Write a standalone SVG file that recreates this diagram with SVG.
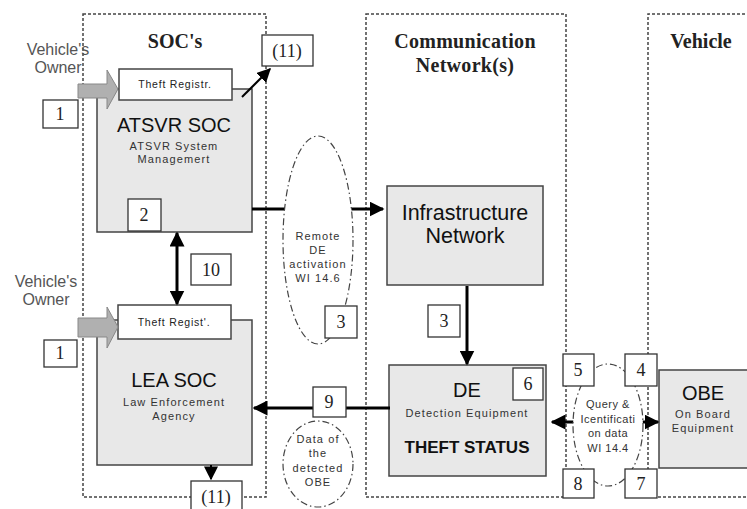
<svg xmlns="http://www.w3.org/2000/svg" width="747" height="509" viewBox="0 0 747 509">
<defs>
<marker id="ah" viewBox="0 0 10 10" refX="9" refY="5" markerWidth="5" markerHeight="5" orient="auto-start-reverse" markerUnits="strokeWidth">
<path d="M0,0 L10,5 L0,10 Z" fill="#000"/>
</marker>
<marker id="ahs" viewBox="0 0 10 10" refX="9" refY="5" markerWidth="7" markerHeight="7" orient="auto-start-reverse" markerUnits="strokeWidth">
<path d="M0,0 L10,5 L0,10 Z" fill="#000"/>
</marker>
</defs>
<style>
.frame{fill:none;stroke:#444;stroke-width:1.5;stroke-dasharray:3 2}
.hdr{font-family:"Liberation Serif",serif;font-weight:bold;font-size:20px;fill:#222;text-anchor:middle}
.own{font-family:"Liberation Sans",sans-serif;font-size:16px;fill:#555;text-anchor:middle}
.num{fill:#fff;stroke:#333;stroke-width:1.3}
.numt{font-family:"Liberation Serif",serif;font-size:18px;fill:#222;text-anchor:middle}
.node{fill:#e8e8e8;stroke:#444;stroke-width:1.5}
.reg{fill:#fff;stroke:#444;stroke-width:1.5}
.regt{font-family:"Liberation Sans",sans-serif;font-size:10.5px;fill:#222;text-anchor:middle;letter-spacing:0.8px}
.big{font-family:"Liberation Sans",sans-serif;font-size:20px;fill:#111;text-anchor:middle}
.sm{font-family:"Liberation Sans",sans-serif;font-size:11px;fill:#333;text-anchor:middle;letter-spacing:1.1px}
.ell{fill:#fff;stroke:#444;stroke-width:1.2;stroke-dasharray:7 3 1.5 3}
.ln{fill:none;stroke:#000;stroke-width:3}
.ln2{fill:none;stroke:#000;stroke-width:2}
.garrow{fill:#b0b0b0;stroke:#888;stroke-width:1}
</style>

<g id="frames">
<rect class="frame" x="83" y="14" width="183" height="483"/>
<rect class="frame" x="366" y="14" width="200" height="483"/>
<path class="frame" d="M760,14 H648 V497 H760"/>
<text class="hdr" x="175" y="48">SOC's</text>
<text class="hdr" x="465" y="48" style="letter-spacing:0.3px">Communication</text>
<text class="hdr" x="465" y="72" style="letter-spacing:0.3px">Network(s)</text>
<text class="hdr" x="701" y="48">Vehicle</text>
</g>

<g id="owner1">
<text class="own" x="58" y="55">Vehicle's</text>
<text class="own" x="58" y="73">Owner</text>
</g>
<g id="owner2">
<text class="own" x="46" y="287">Vehicle's</text>
<text class="own" x="46" y="305">Owner</text>
</g>

<g id="atsvr">
<rect class="node" x="97" y="89" width="155" height="143"/>
<rect class="reg" x="119" y="69" width="113" height="31"/>
<text class="regt" x="175" y="88">Theft Registr.</text>
<text class="big" x="174" y="132">ATSVR SOC</text>
<text class="sm" x="174" y="150">ATSVR System</text>
<text class="sm" x="174" y="163">Managemert</text>
</g>

<g id="lea">
<rect class="node" x="97" y="320" width="155" height="145"/>
<rect class="reg" x="118" y="305" width="113" height="34"/>
<text class="regt" x="174" y="326">Theft Regist'.</text>
<text class="big" x="174" y="387">LEA SOC</text>
<text class="sm" x="174" y="406">Law Enforcement</text>
<text class="sm" x="174" y="420">Agency</text>
</g>

<g id="infra">
<rect class="node" x="387" y="186" width="156" height="99"/>
<text class="big" x="465" y="220" style="font-size:21.5px">Infrastructure</text>
<text class="big" x="465" y="243" style="font-size:21.5px">Network</text>
</g>

<g id="de">
<rect class="node" x="389" y="365" width="157" height="111"/>
<text class="big" x="467" y="397">DE</text>
<text class="sm" x="467" y="417">Detection Equipment</text>
<text class="big" x="467" y="453" style="font-size:17px;font-weight:bold">THEFT STATUS</text>
</g>

<g id="obe">
<rect class="node" x="659" y="370" width="100" height="98"/>
<text class="big" x="703" y="400">OBE</text>
<text class="sm" x="703" y="418">On Board</text>
<text class="sm" x="703" y="432">Equipment</text>
</g>

<g id="connectors">
<line class="ln" x1="252" y1="209" x2="383" y2="209" marker-end="url(#ah)"/>
<line class="ln" x1="177" y1="233" x2="177" y2="304" marker-start="url(#ah)" marker-end="url(#ah)"/>
<line class="ln" x1="390" y1="408" x2="254" y2="408" marker-end="url(#ah)"/>
<line class="ln" x1="467" y1="286" x2="467" y2="364" marker-end="url(#ah)"/>
<line class="ln" x1="552" y1="422" x2="658" y2="422" marker-start="url(#ah)" marker-end="url(#ah)"/>
<line class="ln2" x1="242" y1="97" x2="270" y2="69" marker-end="url(#ahs)"/>
<line class="ln2" x1="211" y1="465" x2="211" y2="479" marker-end="url(#ahs)"/>
<polygon class="garrow" points="78,84 107,84 107,70 118,89 107,109 107,98 78,98"/>
<polygon class="garrow" points="78,318 107,318 107,307 118,327 107,348 107,337 78,337"/>
</g>

<g id="remote">
<ellipse class="ell" cx="318" cy="240" rx="35" ry="104"/>
<text class="sm" x="318" y="240">Remote</text>
<text class="sm" x="318" y="254">DE</text>
<text class="sm" x="318" y="268">activation</text>
<text class="sm" x="318" y="282">WI 14.6</text>
</g>

<g id="dataobe">
<ellipse class="ell" cx="318" cy="464" rx="35" ry="43"/>
<text class="sm" x="318" y="443">Data of</text>
<text class="sm" x="318" y="457">the</text>
<text class="sm" x="318" y="472">detected</text>
<text class="sm" x="318" y="486">OBE</text>
</g>

<g id="query">
<ellipse class="ell" cx="608" cy="425" rx="35" ry="61"/>
<text class="sm" x="608" y="408" style="letter-spacing:0.5px">Query &amp;</text>
<text class="sm" x="608" y="423" style="letter-spacing:0.5px">Icentificati</text>
<text class="sm" x="608" y="437" style="letter-spacing:0.5px">on data</text>
<text class="sm" x="608" y="452" style="letter-spacing:0.5px">WI 14.4</text>
</g>

<g id="labels">
<rect class="num" x="43" y="100" width="35" height="28"/><text class="numt" x="60" y="120">1</text>
<rect class="num" x="44" y="340" width="33" height="27"/><text class="numt" x="60" y="359">1</text>
<rect class="num" x="128" y="199" width="33" height="32"/><text class="numt" x="144" y="221">2</text>
<rect class="num" x="262" y="35" width="51" height="31"/><text class="numt" x="287" y="57">(11)</text>
<rect class="num" x="191" y="481" width="51" height="32"/><text class="numt" x="216" y="503">(11)</text>
<rect class="num" x="191" y="254" width="40" height="31"/><text class="numt" x="211" y="276">10</text>
<rect class="num" x="325" y="306" width="32" height="32"/><text class="numt" x="341" y="328">3</text>
<rect class="num" x="428" y="305" width="32" height="32"/><text class="numt" x="444" y="327">3</text>
<rect class="num" x="313" y="387" width="33" height="30"/><text class="numt" x="329" y="408">9</text>
<rect class="num" x="513" y="368" width="30" height="32"/><text class="numt" x="528" y="390">6</text>
<rect class="num" x="563" y="354" width="31" height="32"/><text class="numt" x="578" y="376">5</text>
<rect class="num" x="625" y="354" width="32" height="32"/><text class="numt" x="641" y="376">4</text>
<rect class="num" x="563" y="469" width="31" height="29"/><text class="numt" x="578" y="490">8</text>
<rect class="num" x="625" y="469" width="32" height="29"/><text class="numt" x="641" y="490">7</text>
</g>
</svg>
